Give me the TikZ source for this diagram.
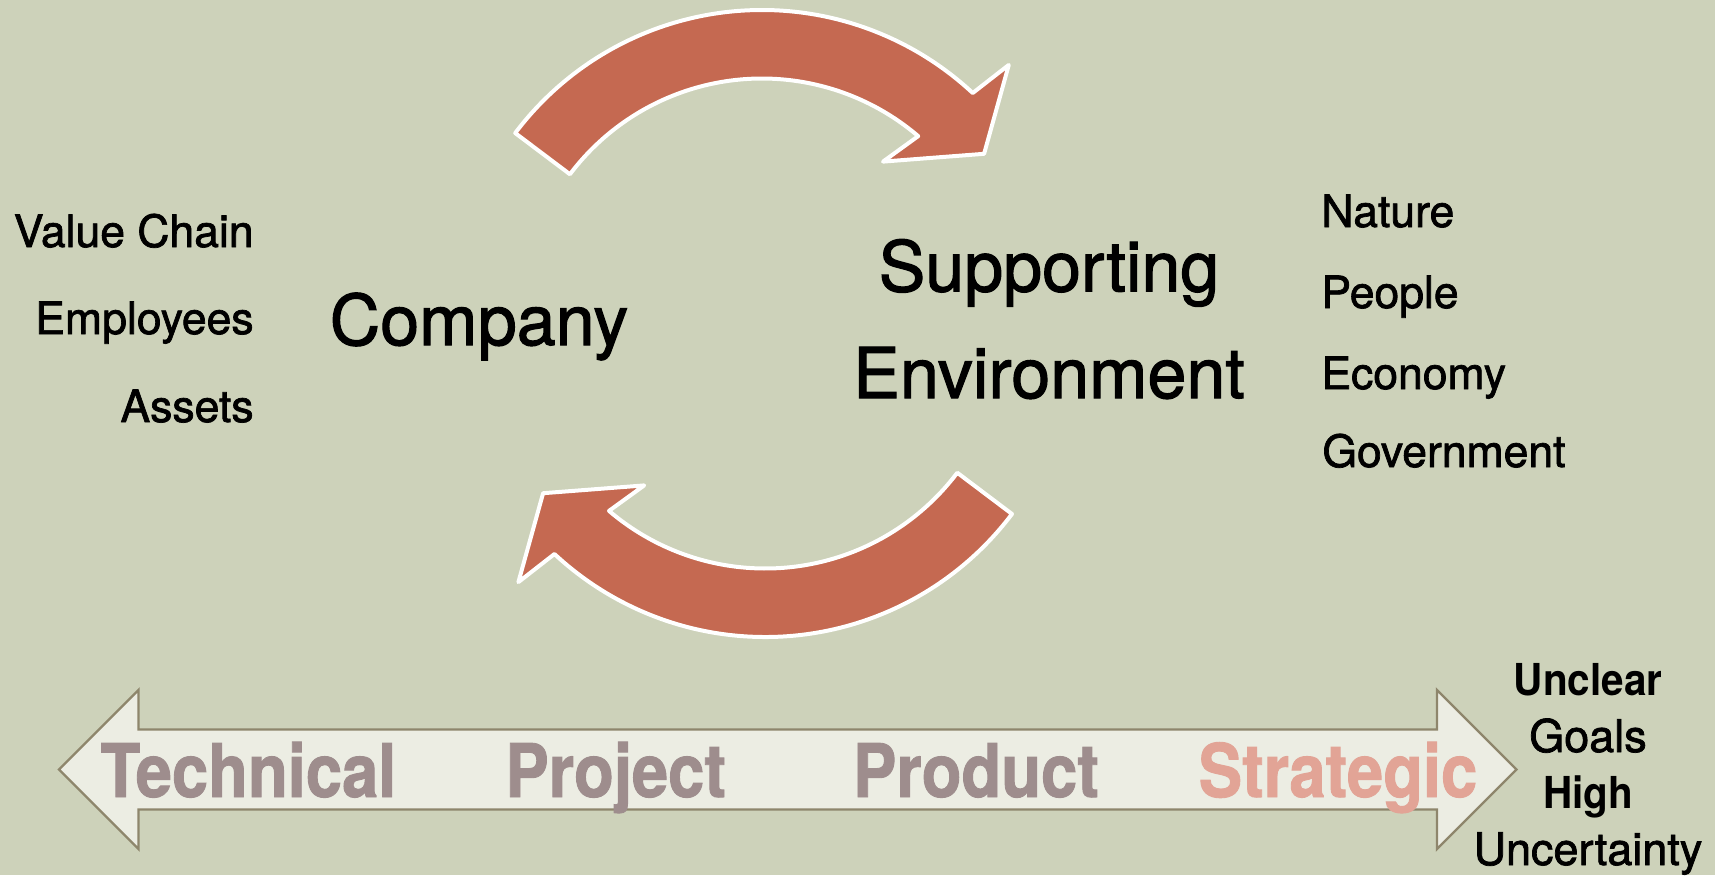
\documentclass[tikz,border=0pt]{standalone}
\usepackage{fontspec}
\setmainfont{TeX Gyre Heros}
\newfontfamily\medfont[FakeBold=1.6]{TeX Gyre Heros}
\newfontfamily\condfont[FakeStretch=0.88,FakeBold=1.2]{TeX Gyre Heros}
\newfontfamily\sidefont[FakeStretch=0.92]{TeX Gyre Heros}
\usetikzlibrary{calc}
\definecolor{bgcol}{RGB}{205,210,186}
\definecolor{arrowred}{RGB}{197,105,81}
\definecolor{lightfill}{RGB}{236,237,227}
\definecolor{bordercol}{RGB}{142,134,108}
\definecolor{greytxt}{RGB}{158,141,141}
\definecolor{pinktxt}{RGB}{226,164,150}
\tikzset{
  lbl/.style={inner sep=0pt, font=\medfont\fontsize{22.25}{26}\selectfont},
  big/.style={inner sep=0pt, font=\medfont\fontsize{35}{53.3}\selectfont},
  spectxt/.style={inner sep=0pt, anchor=base, font=\condfont\bfseries\fontsize{37}{40}\selectfont},
  sidebold/.style={inner sep=0pt, anchor=base, font=\sidefont\bfseries\fontsize{22}{24}\selectfont},
  sidereg/.style={inner sep=0pt, anchor=base, font=\medfont\fontsize{22.5}{26}\selectfont},
  cyc/.style={fill=arrowred, draw=white, line width=2pt, line join=round},
  dbl/.style={fill=lightfill, draw=bordercol, line width=1.2pt, line join=miter},
}
\begin{document}
\begin{tikzpicture}[x=0.5pt,y=-0.5pt]
\fill[bgcol] (0,0) rectangle (1715,875);
\useasboundingbox (0,0) rectangle (1715,875);

% circular arrows
\coordinate (c1) at (762,319);
\coordinate (c2) at (765.2,328);
\path[cyc] ($(c1)+(-143:309)$) arc[start angle=-143,end angle=-47,radius=309]
  -- (1008.8,64.9) -- (984.1,153.8) -- (883,161.6)
  -- ($(c1)+(-49.5:240.5)$) arc[start angle=-49.5,end angle=-143,radius=240.5] -- cycle;
\path[cyc] ($(c2)+(37:309)$) arc[start angle=37,end angle=133,radius=309]
  -- (518.4,582.1) -- (543.1,493.2) -- (644.2,485.4)
  -- ($(c2)+(130.5:240.5)$) arc[start angle=130.5,end angle=37,radius=240.5] -- cycle;

% left list
\node[lbl, anchor=base east] (vc) at (254,247) {Value Chain};
\node[lbl, anchor=base east] (emp) at (254,334) {Employees};
\node[lbl, anchor=base east] (ast) at (254,422) {Assets};
\node[big, anchor=base] (comp) at (479,345) {Company};

% supporting environment (base = last line)
\node[big, anchor=base, align=center] (env) at (1049,398) {Supporting\\Environment};

% right list
\node[lbl, anchor=base west] (nat) at (1321,227) {Nature};
\node[lbl, anchor=base west] (peo) at (1321,308) {People};
\node[lbl, anchor=base west] (eco) at (1321,389) {Economy};
\node[lbl, anchor=base west] (gov) at (1322,467) {Government};

% double arrow
\draw[dbl] (59,769.5) -- (138.5,690) -- (138.5,729.5) -- (1437,729.5) -- (1437,690)
  -- (1516.5,769.5) -- (1437,849) -- (1437,809.5) -- (138.5,809.5) -- (138.5,849) -- cycle;
\node[spectxt, text=greytxt] (tech) at (248.5,797) {Technical};
\node[spectxt, text=greytxt] (proj) at (615.7,797) {Project};
\node[spectxt, text=greytxt] (prod) at (976,797) {Product};
\node[spectxt, text=pinktxt] (strat) at (1338,797) {Strategic};

% right side labels
\node[sidebold] (uncl) at (1588,695) {Unclear};
\node[sidereg] (goals) at (1588,752) {Goals};
\node[sidebold] (high) at (1588,808) {High};
\node[sidereg] (unc) at (1588,865) {Uncertainty};
\end{tikzpicture}
\end{document}
